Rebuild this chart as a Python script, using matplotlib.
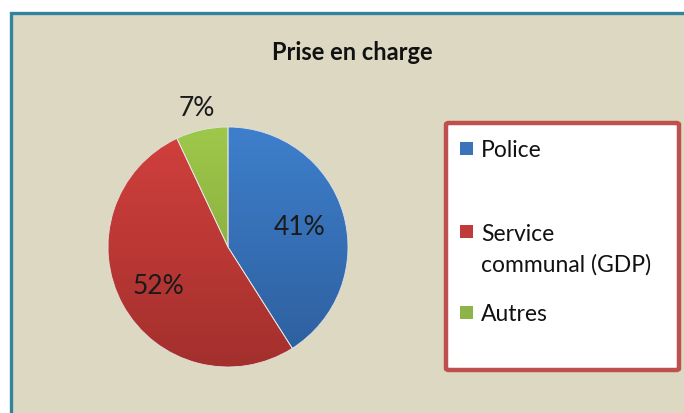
import numpy as np
import matplotlib.pyplot as plt
from matplotlib.colors import LinearSegmentedColormap
from matplotlib.patches import Rectangle, FancyBboxPatch

# Data
labels = ["Police", "Service\ncommunal (GDP)", "Autres"]
values = [41, 52, 7]
pct_labels = ["41%", "52%", "7%"]

# Colours (top / bottom of the vertical gradient)
tops = ["#3e7fcc", "#d2403d", "#9ec84a"]
bottoms = ["#2d5e9c", "#a3302d", "#7c9d38"]
flat = ["#3a73ba", "#c0393b", "#8db446"]
label_dist = [0.62, 0.66, 1.19]

W, H = 684, 414
fig = plt.figure(figsize=(W / 100, H / 100), dpi=100, facecolor="white")
plt.rcParams["font.family"] = ["Lato", "DejaVu Sans"]

# beige chart area with teal border
fig.patches.append(Rectangle((10.5 / W, -0.05), 1.1, (H - 13.5) / H + 0.05,
                             transform=fig.transFigure, facecolor="#ddd8c2",
                             edgecolor="#31849b", linewidth=2.4, zorder=0))

# title
fig.text(352 / W, 1 - 53 / H, "Prise en charge", ha="center", va="center",
         fontsize=17, fontweight="bold", color="#111111")

# pie axes: centre (228, 248), radius 120 px
cx, cy, r = 228, 248, 120
ax = fig.add_axes([(cx - r) / W, (H - cy - r) / H, 2 * r / W, 2 * r / H])
ax.set_zorder(2)
ax.patch.set_alpha(0)

wedges, _ = ax.pie(values, colors=flat, startangle=90, counterclock=False,
                   radius=1, center=(0, 0), frame=True)

grad = np.linspace(1, 0, 256).reshape(-1, 1)
for w, t, b in zip(wedges, tops, bottoms):
    cmap = LinearSegmentedColormap.from_list("g", [b, t])
    im = ax.imshow(grad, extent=(-1, 1, -1, 1), cmap=cmap, aspect="auto",
                   origin="upper", zorder=2, vmin=0, vmax=1)
    im.set_clip_path(w)

# thin light seams on top
ax.pie(values, startangle=90, counterclock=False, radius=1, frame=True,
       wedgeprops=dict(fill=False, edgecolor="#e6e6e6", linewidth=0.6, zorder=3))
ax.set_xlim(-1, 1)
ax.set_ylim(-1, 1)
ax.set_aspect("equal")
ax.axis("off")

for w, txt, d in zip(wedges, pct_labels, label_dist):
    ang = np.deg2rad((w.theta1 + w.theta2) / 2)
    ax.text(d * np.cos(ang), d * np.sin(ang), txt, ha="center", va="center",
            fontsize=19, color="#1a1a1a", zorder=5, clip_on=False)

# legend box
fig.patches.append(FancyBboxPatch((446 / W, 1 - 371 / H), 233 / W, 247 / H,
                                  boxstyle="round,pad=0,rounding_size=0.004",
                                  transform=fig.transFigure, facecolor="white",
                                  edgecolor="#c0504d", linewidth=3.2, zorder=1))
entry_y = [149, 232, 313]
text_y = [150.5, 250, 314.5]
for lab, col, y, ty in zip(labels, flat, entry_y, text_y):
    fig.patches.append(Rectangle((460 / W, 1 - (y + 7) / H), 13 / W, 13 / H,
                                 transform=fig.transFigure, facecolor=col,
                                 edgecolor="none", zorder=2))
    fig.text(481 / W, 1 - ty / H, lab, ha="left", va="center",
             fontsize=16.5, color="#111111", linespacing=1.5, zorder=3)

fig.savefig("out.png", dpi=100, facecolor="white")
